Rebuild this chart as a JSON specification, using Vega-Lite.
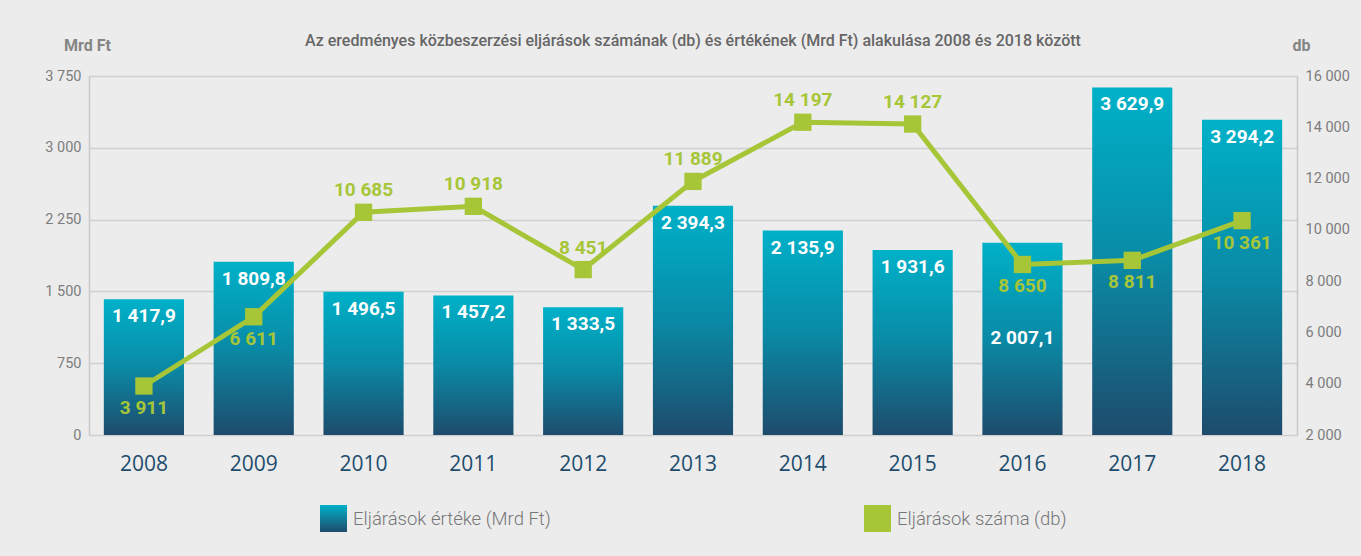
{
  "$schema": "https://vega.github.io/schema/vega-lite/v6.json",
  "autosize": "none",
  "width": 1208,
  "height": 359,
  "padding": {"left": 89, "top": 76, "right": 64, "bottom": 121},
  "background": "#ececec",
  "config": {
    "locale": {"number": {"decimal": ",", "thousands": " ", "grouping": [3], "currency": ["", ""]}},
    "view": {"stroke": null},
    "font": "Roboto"
  },
  "title": {
    "text": "Az eredményes közbeszerzési eljárások számának (db) és értékének (Mrd Ft) alakulása 2008 és 2018 között",
    "font": "Roboto",
    "fontSize": 16,
    "fontWeight": 500,
    "color": "#666666",
    "anchor": "middle",
    "frame": "group",
    "offset": -12
  },
  "data": {
    "values": [
      {"year": "2008", "value": 1417.9, "count": 3911},
      {"year": "2009", "value": 1809.8, "count": 6611},
      {"year": "2010", "value": 1496.5, "count": 10685},
      {"year": "2011", "value": 1457.2, "count": 10918},
      {"year": "2012", "value": 1333.5, "count": 8451},
      {"year": "2013", "value": 2394.3, "count": 11889},
      {"year": "2014", "value": 2135.9, "count": 14197},
      {"year": "2015", "value": 1931.6, "count": 14127},
      {"year": "2016", "value": 2007.1, "count": 8650},
      {"year": "2017", "value": 3629.9, "count": 8811},
      {"year": "2018", "value": 3294.2, "count": 10361}
    ]
  },
  "encoding": {
    "x": {
      "field": "year", "type": "nominal", "sort": null,
      "scale": {"paddingInner": 0.27, "paddingOuter": 0.135},
      "axis": {
        "title": null, "domain": false, "ticks": false, "labelAngle": 0,
        "labelPadding": 18, "labelFontSize": 21, "labelFont": "Open Sans",
        "labelColor": "#1e4c6c"
      }
    }
  },
  "layer": [
    {
      "layer": [
        {
          "mark": {
            "type": "bar",
            "fill": {
              "gradient": "linear", "x1": 0, "y1": 0, "x2": 0, "y2": 1,
              "stops": [
                {"offset": 0, "color": "#00b1c8"},
                {"offset": 0.5, "color": "#0a8aa6"},
                {"offset": 1, "color": "#1e4b6c"}
              ]
            }
          },
          "encoding": {
            "y": {
              "field": "value", "type": "quantitative",
              "scale": {"domain": [0, 3750], "nice": false, "zero": true},
              "axis": {
                "orient": "left",
                "values": [0, 750, 1500, 2250, 3000, 3750],
                "format": ",.0f",
                "domain": true, "domainColor": "#c8c8c8", "domainWidth": 1.5,
                "ticks": false, "labelPadding": 8,
                "labelFontSize": 14.5, "labelColor": "#7d7d7d",
                "grid": true, "gridColor": "#cfcfcf", "gridWidth": 1.5,
                "title": "Mrd Ft", "titleAngle": 0, "titleAlign": "center",
                "titleBaseline": "middle", "titleX": -2, "titleY": -31,
                "titleFontSize": 16, "titleFontWeight": "bold", "titleColor": "#858585"
              }
            }
          }
        },
        {
          "transform": [{"filter": "datum.year != '2016'"}],
          "mark": {"type": "text", "baseline": "top", "dy": 8, "fontSize": 19, "fontWeight": "bold", "color": "#ffffff"},
          "encoding": {
            "y": {"field": "value", "type": "quantitative"},
            "text": {"field": "value", "type": "quantitative", "format": ",.1f"}
          }
        },
        {
          "transform": [{"filter": "datum.year == '2016'"}],
          "mark": {"type": "text", "baseline": "top", "dy": 86, "fontSize": 19, "fontWeight": "bold", "color": "#ffffff"},
          "encoding": {
            "y": {"field": "value", "type": "quantitative"},
            "text": {"field": "value", "type": "quantitative", "format": ",.1f"}
          }
        },
        {
          "mark": {
            "type": "point", "filled": true, "opacity": 0,
            "fill": {
              "gradient": "linear", "x1": 0, "y1": 0, "x2": 0, "y2": 1,
              "stops": [
                {"offset": 0, "color": "#00b1c8"},
                {"offset": 1, "color": "#1e4b6c"}
              ]
            }
          },
          "encoding": {
            "shape": {
              "datum": "Eljárások értéke (Mrd Ft)",
              "scale": {"range": ["square"]},
              "legend": {
                "orient": "none", "legendX": 231, "legendY": 429,
                "title": null, "symbolSize": 729,
                "symbolOpacity": 1, "symbolStrokeWidth": 0,
                "labelFontSize": 18.5, "labelFontWeight": 300, "labelColor": "#777777", "labelOffset": 6,
                "labelLimit": 400, "labelFont": "Roboto"
              }
            }
          }
        }
      ]
    },
    {
      "layer": [
        {
          "mark": {"type": "line", "color": "#a6c638", "strokeWidth": 5},
          "encoding": {
            "y": {
              "field": "count", "type": "quantitative",
              "scale": {"domain": [2000, 16000], "nice": false, "zero": false},
              "axis": {
                "orient": "right",
                "values": [2000, 4000, 6000, 8000, 10000, 12000, 14000, 16000],
                "format": ",.0f",
                "domain": true, "domainColor": "#c8c8c8", "domainWidth": 1.5,
                "ticks": false, "labelPadding": 8, "grid": false,
                "labelFontSize": 14.5, "labelColor": "#7d7d7d",
                "title": "db", "titleAngle": 0, "titleAlign": "center",
                "titleBaseline": "middle", "titleX": 4, "titleY": -31,
                "titleFontSize": 16, "titleFontWeight": "bold", "titleColor": "#858585"
              }
            }
          }
        },
        {
          "mark": {"type": "square", "size": 300, "opacity": 1, "color": "#a6c638"},
          "encoding": {"y": {"field": "count", "type": "quantitative"}}
        },
        {
          "transform": [{"filter": "datum.year >= '2010' && datum.year <= '2015'"}],
          "mark": {"type": "text", "baseline": "bottom", "dy": -12, "fontSize": 19, "fontWeight": "bold", "color": "#a6c638"},
          "encoding": {
            "y": {"field": "count", "type": "quantitative"},
            "text": {"field": "count", "type": "quantitative", "format": ","}
          }
        },
        {
          "transform": [{"filter": "datum.year < '2010' || datum.year > '2015'"}],
          "mark": {"type": "text", "baseline": "top", "dy": 13, "fontSize": 19, "fontWeight": "bold", "color": "#a6c638"},
          "encoding": {
            "y": {"field": "count", "type": "quantitative"},
            "text": {"field": "count", "type": "quantitative", "format": ","}
          }
        },
        {
          "mark": {"type": "point", "filled": true, "opacity": 0, "color": "#a6c638"},
          "encoding": {
            "shape": {
              "datum": "Eljárások száma (db)",
              "scale": {"range": ["square"]},
              "legend": {
                "orient": "none", "legendX": 775, "legendY": 429,
                "title": null, "symbolSize": 729,
                "symbolOpacity": 1, "symbolStrokeWidth": 0,
                "labelFontSize": 18.5, "labelFontWeight": 300, "labelColor": "#777777", "labelOffset": 6,
                "labelLimit": 400, "labelFont": "Roboto"
              }
            }
          }
        }
      ]
    }
  ],
  "resolve": {"scale": {"y": "independent", "shape": "independent"}, "legend": {"shape": "independent"}}
}
